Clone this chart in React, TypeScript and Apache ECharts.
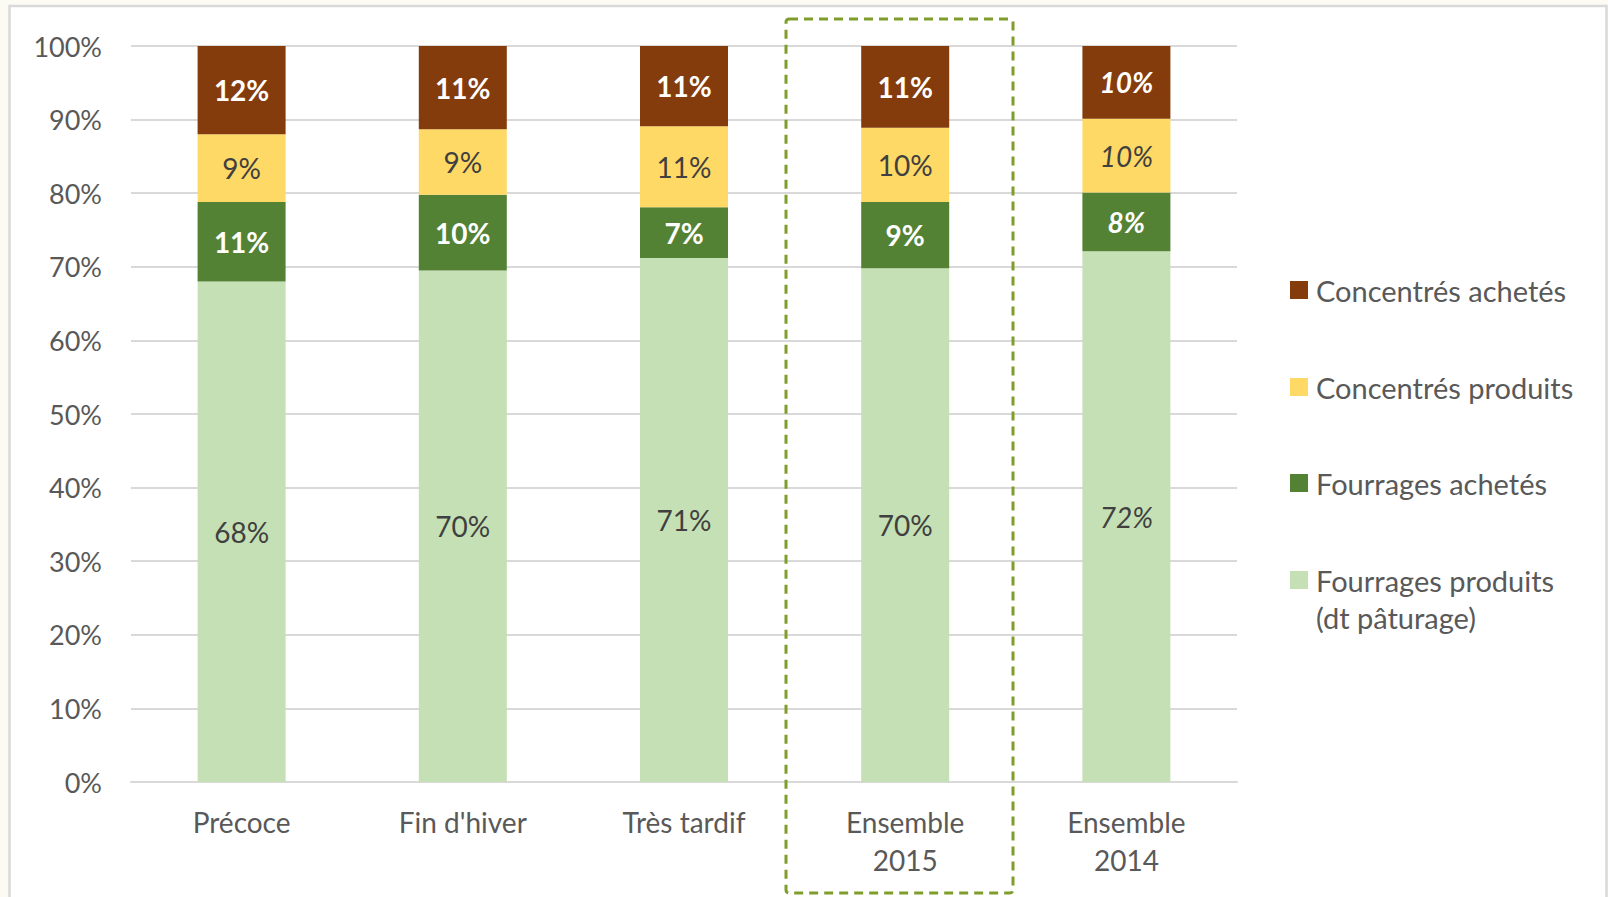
import React, { useEffect, useRef } from "react";
import * as echarts from "echarts";

const categories = ["Précoce", "Fin d'hiver", "Très tardif", "Ensemble\n2015", "Ensemble\n2014"];
const fourragesProduits = [68.0, 69.5, 71.2, 69.8, 72.1];
const fourragesAchetes = [10.8, 10.3, 6.9, 9.0, 8.0];
const concentresProduits = [9.2, 8.9, 11.0, 10.1, 10.0];
const concentresAchetes = [12.0, 11.3, 10.9, 11.1, 9.9];
const yTicks = [0, 10, 20, 30, 40, 50, 60, 70, 80, 90, 100];
const italicIndex = 4;

const FONT = "Lato, 'Open Sans', sans-serif";

export default function App() {
  const ref = useRef<HTMLDivElement>(null);
  useEffect(() => {
    document.body.style.margin = "0";
    const chart = echarts.init(ref.current!, null, { renderer: "svg" });
    const mk = (name: string, values: number[], color: string, textColor: string, bold: boolean) => ({
      name,
      type: "bar",
      stack: "total",
      barWidth: 88,
      itemStyle: { color },
      label: {
        show: true,
        position: "inside",
        color: textColor,
        fontFamily: FONT,
        fontSize: 28,
        fontWeight: bold ? "bold" : "normal",
        formatter: (p: any) => Math.round(p.value) + "%",
      },
      data: values.map((v, i) =>
        i === italicIndex ? { value: v, label: { fontStyle: "italic" } } : v
      ),
    });
    const legendCenters = [290, 387, 483];
    const names = ["Concentrés achetés", "Concentrés produits", "Fourrages achetés"];
    const legendBase = {
      orient: "vertical",
      left: 1290,
      padding: 0,
      itemWidth: 18,
      itemHeight: 18,
      itemGap: 0,
      icon: "rect",
      textStyle: { color: "#595959", fontSize: 29, fontFamily: FONT, lineHeight: 37, padding: [0, 0, 0, 3] },
    };
    chart.setOption({
      animation: false,
      backgroundColor: "#fbfbf3",
      textStyle: { fontFamily: FONT },
      graphic: [
        {
          type: "rect",
          z: -100,
          silent: true,
          shape: { x: 9.5, y: 6, width: 1597, height: 900 },
          style: { fill: "#ffffff", stroke: "#d9d9d9", lineWidth: 2.5 },
        },
        {
          type: "rect",
          z: 100,
          silent: true,
          shape: { x: 786, y: 19, width: 227, height: 874, r: 3 },
          style: { fill: "none", stroke: "#7f9d2b", lineWidth: 3, lineDash: [9, 6] },
        },
      ],
      grid: { left: 131, right: 371, top: 46, bottom: 115, containLabel: false },
      legend: [
        ...names.map((n, i) => ({ ...legendBase, top: legendCenters[i] - 18.5, data: [n] })),
        {
          ...legendBase,
          top: 580 - 55.5,
          data: ["Fourrages produits"],
          formatter: () => "\nFourrages produits\n(dt pâturage)",
        },
      ],
      xAxis: {
        type: "category",
        data: categories,
        axisLine: { lineStyle: { color: "#d9d9d9", width: 2 } },
        axisTick: { show: false },
        axisLabel: { color: "#595959", fontSize: 28, fontFamily: FONT, lineHeight: 38, margin: 21 },
      },
      yAxis: {
        type: "value",
        min: yTicks[0],
        max: yTicks[yTicks.length - 1],
        interval: 10,
        axisLine: { show: false },
        axisTick: { show: false },
        splitLine: { lineStyle: { color: "#d9d9d9", width: 2 } },
        axisLabel: { color: "#595959", fontSize: 27, fontFamily: FONT, margin: 29, formatter: "{value}%" },
      },
      series: [
        mk("Fourrages produits", fourragesProduits, "#c5e0b4", "#404040", false),
        mk("Fourrages achetés", fourragesAchetes, "#548235", "#ffffff", true),
        mk("Concentrés produits", concentresProduits, "#ffd966", "#404040", false),
        mk("Concentrés achetés", concentresAchetes, "#843c0c", "#ffffff", true),
      ],
    });
    return () => chart.dispose();
  }, []);
  return <div ref={ref} style={{ position: "fixed", left: 0, top: 0, width: 1608, height: 897 }} />;
}
